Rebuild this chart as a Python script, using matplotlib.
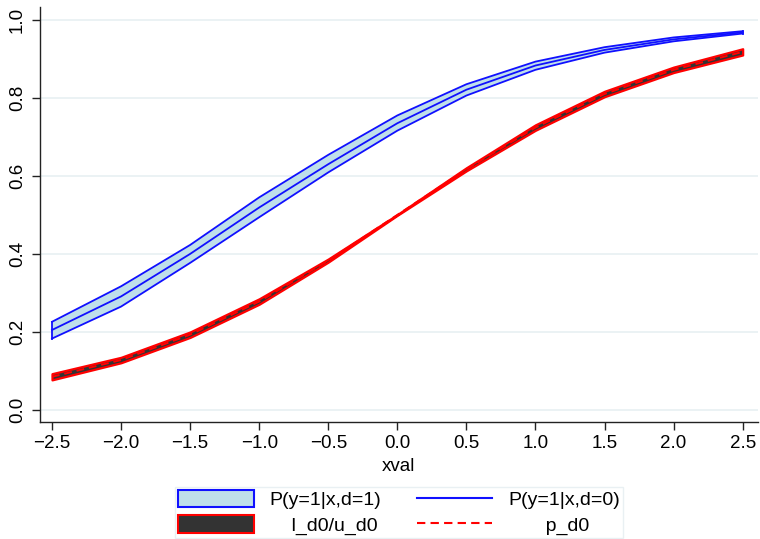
import numpy as np
import matplotlib.pyplot as plt
from matplotlib.patches import Patch
from matplotlib.lines import Line2D

plt.rcParams['font.family'] = ['Liberation Sans', 'DejaVu Sans']

""" values read off the chart """
xval = [-2.5, -2.0, -1.5, -1.0, -0.5, 0.0, 0.5, 1.0, 1.5, 2.0, 2.5]

# P(y=1|x,d=1) band (lower / upper) and P(y=1|x,d=0) line
l_d1 = [0.183, 0.265, 0.377, 0.494, 0.609, 0.716, 0.806, 0.872, 0.916, 0.945, 0.965]
u_d1 = [0.226, 0.317, 0.423, 0.545, 0.654, 0.755, 0.835, 0.893, 0.930, 0.955, 0.971]
p_d1 = [0.205, 0.291, 0.400, 0.519, 0.630, 0.735, 0.821, 0.883, 0.923, 0.950, 0.968]

# p_d0 with its band l_d0 / u_d0
p_d0 = [0.085, 0.128, 0.193, 0.278, 0.383, 0.500, 0.617, 0.724, 0.810, 0.872, 0.918]
l_d0 = [0.077, 0.121, 0.186, 0.271, 0.379, 0.499, 0.613, 0.717, 0.803, 0.865, 0.910]
u_d0 = [0.093, 0.135, 0.200, 0.285, 0.387, 0.501, 0.621, 0.731, 0.817, 0.879, 0.926]

xticks = [-2.5, -2.0, -1.5, -1.0, -0.5, 0.0, 0.5, 1.0, 1.5, 2.0, 2.5]
yticks = [0.0, 0.2, 0.4, 0.6, 0.8, 1.0]

blue = '#1010ff'
ltblue = '#bfdfea'
red = '#ff0000'
dark = '#333333'

fig = plt.figure(figsize=(7.6, 5.39), dpi=100)
ax = fig.add_axes([0.0526, 0.217, 0.9444, 0.770])

# blue band with edges
ax.fill_between(xval, l_d1, u_d1, facecolor=ltblue, edgecolor='none', zorder=2)
ax.plot(xval, l_d1, color=blue, lw=1.3, zorder=3)
ax.plot(xval, u_d1, color=blue, lw=1.3, zorder=3)
ax.plot([xval[0], xval[0]], [l_d1[0], u_d1[0]], color=blue, lw=1.3, zorder=3)
ax.plot([xval[-1], xval[-1]], [l_d1[-1], u_d1[-1]], color=blue, lw=1.3, zorder=3)
ax.plot(xval, p_d1, color=blue, lw=1.3, zorder=3)

# red band (dark fill, red outline) + dashed line
ax.fill_between(xval, l_d0, u_d0, facecolor=dark, edgecolor=red, lw=1.6, zorder=2)
ax.plot(xval, p_d0, color=red, lw=1.4, ls=(0, (4, 2.5)), zorder=3)

ax.set_xlim(-2.587, 2.609)
ax.set_ylim(-0.031, 1.033)
ax.set_xticks(xticks)
ax.set_yticks(yticks)
ax.set_xticklabels([('%.1f' % v).replace('-', '\u2212') for v in xticks])
ax.set_yticklabels(['%.1f' % v for v in yticks], rotation=90, va='center')
ax.tick_params(axis='both', direction='out', length=6, width=1, colors='#222222',
               labelsize=13.5, labelcolor='black')
ax.tick_params(axis='y', pad=4)
ax.tick_params(axis='x', pad=3)
ax.grid(True, axis='y', color='#e8f0f2', lw=1.2, zorder=0)
ax.set_axisbelow(True)
for s in ['top', 'right']:
    ax.spines[s].set_visible(False)
for s in ['left', 'bottom']:
    ax.spines[s].set_color('#222222')
    ax.spines[s].set_linewidth(1)

ax.set_xlabel('xval', fontsize=13.5, labelpad=5)

handles = [Patch(facecolor=ltblue, edgecolor=blue, lw=1.5),
           Patch(facecolor=dark, edgecolor=red, lw=1.5),
           Line2D([0], [0], color=blue, lw=1.5),
           Line2D([0], [0], color=red, lw=1.5, ls=(0, (4, 2.5)))]
# leading spaces keep the short labels centred under the long ones
labels = ['P(y=1|x,d=1)', '    l_d0/u_d0', 'P(y=1|x,d=0)', '       p_d0']
fig.legend(handles, labels, ncol=2, loc='upper center',
           bbox_to_anchor=(0.525, 0.0965), fontsize=14, frameon=True,
           fancybox=False, edgecolor='#e4edf0', handlelength=3.9,
           handleheight=1.0, handletextpad=0.8, columnspacing=1.8,
           labelspacing=0.3, borderpad=0.15, borderaxespad=0)

plt.savefig('out.png', dpi=100)
